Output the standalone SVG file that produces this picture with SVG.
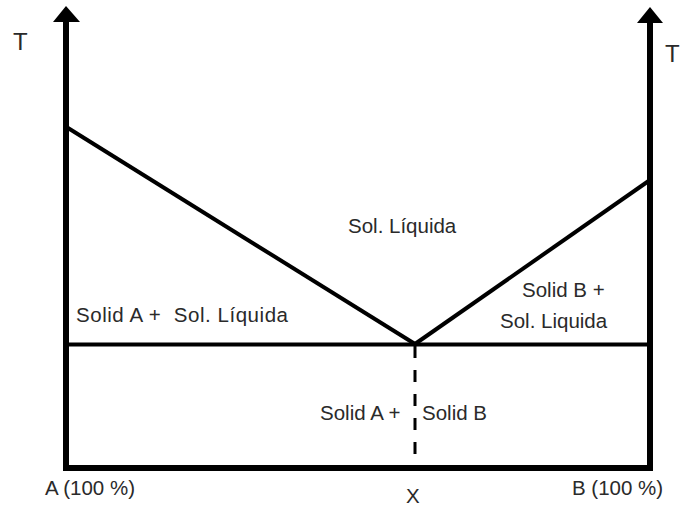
<svg xmlns="http://www.w3.org/2000/svg" width="682" height="510" viewBox="0 0 682 510">
<style>
.ax{stroke:#000;stroke-width:6;fill:none}
.ln{stroke:#000;stroke-width:4;fill:none}
.ds{stroke:#000;stroke-width:3;fill:none;stroke-dasharray:12 12}
.head{fill:#000}
text{font-family:"Liberation Sans",Arial,sans-serif;font-size:20.5px;fill:#2a2a2a;white-space:pre}
.big{font-size:24px}
</style>
<rect width="682" height="510" fill="#fff"/>
<g id="connectors">
<polyline class="ax" points="66,20 66,468 650,468 650,20"/>
<polygon class="head" points="66,6 80,22 53,22"/>
<polygon class="head" points="650,7 663,23 637,23"/>
<line class="ln" x1="66" y1="344.5" x2="650" y2="344.5"/>
<line class="ln" x1="68" y1="128" x2="415" y2="344"/>
<line class="ln" x1="415" y1="344" x2="650" y2="180"/>
<line class="ds" x1="415" y1="346" x2="415" y2="468"/>
</g>
<g id="labels">
<text class="big" x="13" y="50">T</text>
<text class="big" x="665" y="62">T</text>
<text x="348" y="233">Sol. Líquida</text>
<text x="76" y="322" xml:space="preserve" textLength="212">Solid A +  Sol. Líquida</text>
<text x="522" y="297">Solid B +</text>
<text x="500" y="328">Sol. Liquida</text>
<text x="320" y="420">Solid A +</text>
<text x="422" y="420">Solid B</text>
<text x="45" y="495">A (100 %)</text>
<text x="406" y="503">X</text>
<text x="572" y="495">B (100 %)</text>
</g>
</svg>
